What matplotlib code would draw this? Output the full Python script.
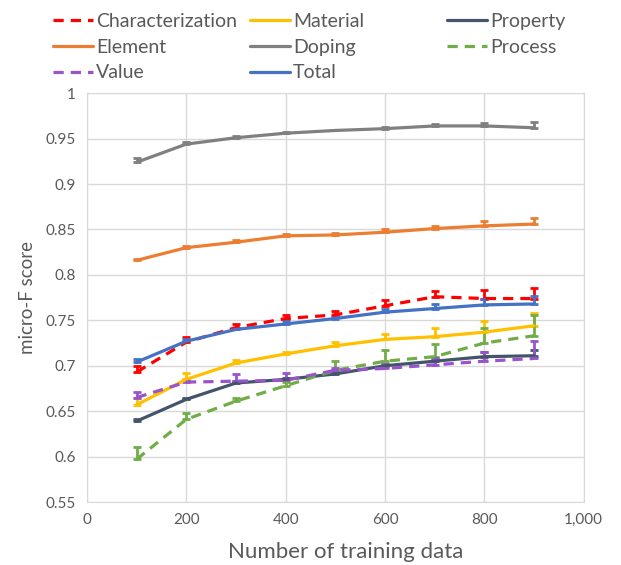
import numpy as np
import matplotlib
matplotlib.use('Agg')
import matplotlib.pyplot as plt
from matplotlib.ticker import FuncFormatter, MultipleLocator

plt.rcParams['font.family'] = ['Lato', 'DejaVu Sans']

# data
n_train = [100, 200, 300, 400, 500, 600, 700, 800, 900]

characterization = [0.693, 0.726, 0.742, 0.752, 0.756, 0.766, 0.776, 0.774, 0.774]
characterization_err = [0.007, 0.006, 0.004, 0.004, 0.004, 0.006, 0.006, 0.009, 0.012]
material = [0.657, 0.685, 0.703, 0.713, 0.722, 0.729, 0.732, 0.737, 0.744]
material_err = [0.008, 0.007, 0.003, 0.002, 0.004, 0.006, 0.009, 0.012, 0.014]
prop = [0.639, 0.663, 0.681, 0.685, 0.691, 0.700, 0.705, 0.710, 0.711]
prop_err = [0.002, 0.002, 0.002, 0.002, 0.002, 0.002, 0.003, 0.005, 0.006]
element = [0.816, 0.830, 0.836, 0.843, 0.844, 0.847, 0.851, 0.854, 0.856]
element_err = [0.002, 0.002, 0.002, 0.002, 0.002, 0.003, 0.003, 0.005, 0.007]
doping = [0.924, 0.944, 0.951, 0.956, 0.959, 0.961, 0.964, 0.964, 0.962]
doping_err = [0.005, 0.002, 0.002, 0.001, 0.001, 0.002, 0.002, 0.003, 0.006]
process = [0.597, 0.641, 0.661, 0.678, 0.695, 0.705, 0.710, 0.725, 0.733]
process_err = [0.013, 0.007, 0.003, 0.004, 0.010, 0.012, 0.014, 0.016, 0.023]
value = [0.665, 0.682, 0.683, 0.684, 0.695, 0.697, 0.701, 0.705, 0.708]
value_err = [0.006, 0.002, 0.008, 0.008, 0.003, 0.005, 0.007, 0.010, 0.019]
total = [0.704, 0.727, 0.740, 0.746, 0.752, 0.759, 0.763, 0.767, 0.768]
total_err = [0.003, 0.002, 0.002, 0.003, 0.002, 0.004, 0.005, 0.006, 0.009]

series = [
    ('Characterization', characterization, characterization_err, '#FF0000', True),
    ('Material', material, material_err, '#FFC000', False),
    ('Property', prop, prop_err, '#44546A', False),
    ('Element', element, element_err, '#ED7D31', False),
    ('Doping', doping, doping_err, '#808080', False),
    ('Process', process, process_err, '#70AD47', True),
    ('Value', value, value_err, '#9954CC', True),
    ('Total', total, total_err, '#4472C4', False),
]

fig = plt.figure(figsize=(6.21, 5.65), dpi=100)
ax = fig.add_axes([0.140, 0.1115, 0.800, 0.7235])

handles = {}
for name, y, err, color, dashed in series:
    ls = (0, (3.2, 2.2)) if dashed else '-'
    eb = ax.errorbar(n_train, y, yerr=[np.zeros(len(err)), err], color=color,
                     lw=2.3, ls=ls, capsize=3, capthick=2, elinewidth=2,
                     solid_capstyle='round', dash_capstyle='butt', label=name)
    eb[-1][0].set_linestyle('-')
    handles[name] = eb[0]

ax.set_xlim(0, 1000)
ax.set_ylim(0.55, 1.0)
ax.xaxis.set_major_locator(MultipleLocator(200))
ax.yaxis.set_major_locator(MultipleLocator(0.05))
ax.xaxis.set_major_formatter(FuncFormatter(lambda v, p: f'{v:,.0f}'))
ax.yaxis.set_major_formatter(FuncFormatter(lambda v, p: f'{round(v, 2):g}'))
ax.grid(True, color='#D9D9D9', lw=1)
ax.set_axisbelow(True)
for s in ax.spines.values():
    s.set_color('#D9D9D9')
ax.tick_params(length=0, labelsize=11, labelcolor='#595959', pad=8)

ax.set_xlabel('Number of training data', fontsize=16, color='#595959')
ax.xaxis.set_label_coords(0.52, -0.098)
ax.set_ylabel('micro-F score', fontsize=13.5, color='#595959', labelpad=7)

# legend: three separate columns, like the Excel layout
columns = [['Characterization', 'Element', 'Value'],
           ['Material', 'Doping', 'Total'],
           ['Property', 'Process']]
col_x = [53, 250, 447]
for names, x0 in zip(columns, col_x):
    leg = fig.legend([handles[k] for k in names], names, loc='upper left',
                     bbox_to_anchor=(x0 / 621, 1 - 13 / 565), frameon=False, fontsize=14,
                     handlelength=2.05, handletextpad=0.15, labelspacing=0.45,
                     borderpad=0.0, borderaxespad=0.0)
    for t in leg.get_texts():
        t.set_color('#595959')

fig.savefig('out.png', dpi=100)
